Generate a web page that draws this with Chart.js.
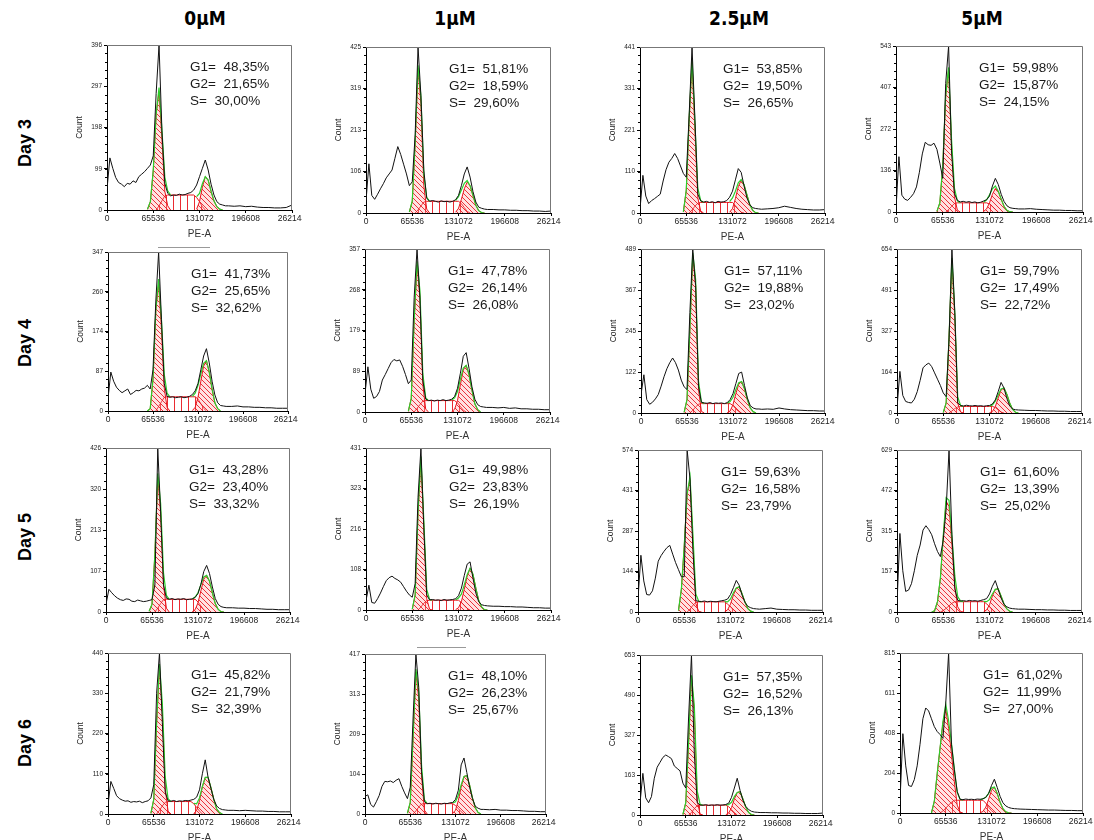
<!DOCTYPE html>
<html>
<head>
<meta charset="utf-8">
<script src="https://cdn.jsdelivr.net/npm/chart.js@4.4.1/dist/chart.umd.min.js"></script>
<style>
html, body { margin: 0; padding: 0; background: #fff; }
body { width: 1094px; height: 840px; position: relative; overflow: hidden; font-family: "Liberation Sans", Arial, sans-serif; }
canvas { position: absolute; }
.conc { position: absolute; top: 7px; font: bold 19px "Liberation Sans Narrow", "DejaVu Sans Condensed", "Liberation Sans", Arial; transform: translateX(-50%); white-space: nowrap; color: #000; }
.day { position: absolute; left: 25px; font: bold 18px "Liberation Sans", Arial; transform: translate(-50%, -50%) rotate(-90deg); white-space: nowrap; color: #000; }
.rule { position: absolute; height: 1px; background: #999; }
</style>
</head>
<body>
<script>
// ---- data ----
const concentrations = ['0µM', '1µM', '2.5µM', '5µM'];
const days = ['Day 3', 'Day 4', 'Day 5', 'Day 6'];

// PE-A channel positions of the histogram points
const binX = [0, 4096, 8192, 12288, 16384, 20480, 24576, 28672, 32768, 36864,
  40960, 45056, 49152, 53248, 57344, 61440, 65536, 69632, 73728, 77824,
  81920, 86016, 90112, 94208, 98304, 102400, 106496, 110592, 114688, 118784,
  122880, 126976, 131072, 135168, 139264, 143360, 147456, 151552, 155648, 159744,
  163840, 167936, 172032, 180224, 188416, 196608, 204800, 212992, 221184, 229376,
  237568, 245760, 253952, 262144];
const xTicks = [0, 65536, 131072, 196608, 262144];

// panels row by row: Day 3 (0, 1, 2.5, 5 µM), Day 4 ..., Day 5 ..., Day 6 ...
const yMax = [396, 425, 441, 543, 347, 357, 489, 654, 426, 431, 574, 629, 440, 417, 653, 815];

const g1Pct = [48.35, 51.81, 53.85, 59.98, 41.73, 47.78, 57.11, 59.79, 43.28, 49.98, 59.63, 61.60, 45.82, 48.10, 57.35, 61.02];
const g2Pct = [21.65, 18.59, 19.50, 15.87, 25.65, 26.14, 19.88, 17.49, 23.40, 23.83, 16.58, 13.39, 21.79, 26.23, 16.52, 11.99];
const sPct = [30.00, 29.60, 26.65, 24.15, 32.62, 26.08, 23.02, 22.72, 33.32, 26.19, 23.79, 25.02, 32.39, 25.67, 26.13, 27.00];

// measured counts, one row per panel, one value per binX
const histCounts = [
  [50,125,100,78,66,62,56,64,62,70,66,80,86,92,100,108,130,280,396,190,64,40,34,36,35,38,36,37,40,42,48,60,80,100,120,96,62,36,20,14,12,10,10,9,10,8,9,7,6,6,5,5,6,12],
  [30,126,45,35,48,62,75,90,100,110,140,170,150,125,100,70,80,200,425,300,110,38,30,32,30,28,31,29,30,28,30,34,45,70,100,118,92,55,28,15,12,10,9,9,8,8,7,7,6,6,5,5,4,5],
  [10,100,45,25,33,38,44,50,85,115,135,145,158,145,125,105,95,260,441,250,50,32,29,31,28,30,27,31,29,30,33,42,58,88,118,108,72,40,22,14,12,11,10,11,12,14,18,15,12,10,9,8,8,9],
  [10,181,55,42,38,48,60,82,130,190,228,220,218,225,205,160,110,420,543,200,60,38,33,35,32,34,31,33,30,32,36,40,52,85,110,90,58,34,20,14,12,11,10,10,11,9,8,7,6,6,5,5,4,4],
  [27,85,65,52,45,40,44,48,36,40,45,44,48,50,56,48,90,240,347,200,60,32,30,31,29,30,31,29,30,32,36,44,60,90,120,136,105,65,35,18,12,11,10,10,11,9,9,8,8,7,7,6,6,6],
  [40,99,50,30,34,45,70,82,95,108,115,112,114,100,82,62,70,250,357,250,70,28,25,26,24,26,25,27,25,26,28,34,52,85,122,130,95,55,28,16,12,11,10,10,9,10,8,9,7,7,6,6,5,5],
  [55,114,40,26,32,42,55,80,108,132,150,164,150,128,98,78,70,300,489,380,80,32,30,29,31,28,30,29,30,28,31,40,58,88,118,122,82,45,22,15,12,12,11,12,11,15,12,10,9,8,7,7,6,6],
  [20,166,70,46,42,40,55,85,130,180,192,199,185,160,135,110,80,65,295,654,400,40,30,28,31,29,28,30,28,29,27,29,30,36,52,85,122,100,58,28,16,13,12,11,10,10,9,8,8,7,7,6,6,6],
  [20,59,50,42,36,32,30,34,33,28,27,31,29,27,28,30,32,70,426,260,70,36,33,35,32,34,33,35,32,33,34,38,48,72,105,121,100,65,35,20,14,12,11,11,10,10,9,9,8,7,7,6,6,6],
  [25,66,20,18,30,45,62,78,86,90,84,80,74,62,50,40,34,70,300,431,220,40,27,28,26,27,25,28,26,27,28,30,38,58,92,122,128,85,45,22,14,12,11,10,10,9,9,8,8,7,6,6,5,5],
  [47,201,110,62,60,75,120,180,200,215,228,236,205,175,150,125,125,574,470,220,40,38,37,39,36,38,37,36,38,40,42,46,62,86,112,95,60,35,20,15,12,11,10,12,14,10,9,8,8,7,7,6,6,6],
  [30,305,160,80,85,110,160,220,260,318,335,320,300,265,235,215,280,400,629,300,90,45,43,44,42,45,43,44,42,45,48,52,70,100,122,88,55,30,20,15,13,12,11,11,10,9,9,8,8,7,7,6,6,6],
  [25,89,70,50,42,38,35,36,32,34,33,35,31,34,36,44,80,330,440,250,60,36,35,37,34,36,35,37,36,38,40,46,66,110,148,100,70,40,22,15,12,11,10,10,9,10,9,8,8,7,7,6,6,6],
  [46,50,25,18,32,48,72,85,84,86,82,88,92,72,55,40,70,250,417,330,110,32,27,28,26,28,27,26,28,27,29,30,38,62,128,146,108,70,40,20,15,12,12,11,12,10,10,9,9,8,7,7,6,6],
  [48,170,70,50,75,150,195,215,235,245,238,230,200,190,180,130,110,400,653,250,50,41,40,42,39,41,40,42,40,41,43,48,72,110,150,100,60,35,22,15,12,11,10,10,9,9,8,8,7,7,6,6,6,8],
  [60,404,240,140,135,170,240,350,480,535,520,480,440,415,400,380,560,815,350,220,110,70,68,71,69,70,68,71,70,72,80,100,140,172,130,85,52,36,28,24,22,21,20,19,18,17,16,15,15,14,13,13,12,12]
];

// model components (values on binX, starting at the given bin index)
const g1Start = [14, 15, 15, 14, 14, 15, 15, 16, 15, 16, 14, 12, 15, 15, 15, 11];
const g1Fit = [
  [2,20,95,230,284,170,45,10,0],
  [3,30,180,370,280,70,10,0],
  [3,60,250,400,220,40,5,0],
  [2,30,150,380,465,220,50,6,0],
  [0,5,70,220,278,180,50,8,0],
  [2,30,200,322,250,60,6,0],
  [2,40,250,470,380,70,5,0],
  [2,40,300,610,380,40,4,0],
  [2,20,150,350,260,70,10,0],
  [2,40,260,400,220,30,2,0],
  [5,80,235,420,470,250,30,2,0],
  [0,5,40,130,290,430,410,260,100,20,2,0],
  [2,40,250,400,280,70,8,0],
  [2,30,200,370,300,100,10,0],
  [2,50,300,560,420,60,4,0],
  [0,60,200,330,455,530,430,300,160,40,5,0]
];
const g2Start = [31, 31, 31, 30, 30, 30, 30, 32, 30, 31, 30, 30, 30, 31, 30, 28];
const g2Fit = [
  [2,20,55,80,72,45,22,8,2,0],
  [2,12,35,62,79,70,45,20,6,1,0],
  [2,12,38,70,87,75,48,22,7,1,0],
  [2,10,30,58,77,68,42,18,5,1,0],
  [1,8,30,65,98,110,85,48,18,5,0],
  [1,6,25,60,92,102,82,48,18,5,0],
  [1,6,25,58,86,94,72,40,15,4,0],
  [1,6,25,60,92,100,75,40,14,3,0],
  [1,6,24,55,85,95,80,50,22,7,1,0],
  [1,6,22,55,90,111,95,58,25,8,1,0],
  [1,8,28,60,85,89,65,35,12,3,0],
  [1,8,28,62,88,90,62,32,12,3,0],
  [1,10,36,75,100,100,72,40,14,4,0],
  [2,10,35,70,98,100,75,42,16,4,0],
  [1,8,30,65,92,95,65,32,10,2,0],
  [1,8,30,70,115,132,100,55,22,6,1,0]
];
const sStart = [17, 17, 17, 17, 17, 17, 17, 18, 17, 18, 17, 15, 17, 17, 17, 14];
const sFit = [
  [0,10,22,34,36,36,36,36,36,36,36,36,36,36,30,20,8,0],
  [0,8,18,28,30,30,30,30,30,30,30,30,30,30,30,30,24,14,4,0],
  [0,8,18,26,28,28,28,28,28,28,28,28,28,28,28,28,20,10,2,0],
  [0,8,18,28,30,30,30,30,30,30,30,30,30,30,30,26,18,8,0],
  [0,10,20,30,31,31,31,31,31,31,31,31,31,31,31,26,16,6,0],
  [0,8,16,24,25,25,25,25,25,25,25,25,25,25,25,20,12,4,0],
  [0,8,18,26,28,28,28,28,28,28,28,28,28,28,28,22,12,4,0],
  [0,8,18,24,26,26,26,26,26,26,26,26,26,26,26,26,22,12,4,0],
  [0,10,22,32,33,33,33,33,33,33,33,33,33,33,33,26,16,6,0],
  [0,8,18,25,26,26,26,26,26,26,26,26,26,26,26,20,12,4,0],
  [0,10,24,34,36,36,36,36,36,36,36,36,36,36,28,18,8,0],
  [0,6,14,24,34,40,40,40,40,40,40,40,40,40,40,40,32,20,8,0],
  [0,10,22,32,34,34,34,34,34,34,34,34,34,28,18,8,0],
  [0,8,18,26,27,27,27,27,27,27,27,27,27,27,27,22,14,6,0],
  [0,10,26,38,40,40,40,40,40,40,40,40,40,40,34,22,10,0],
  [0,10,25,40,55,65,65,65,65,65,65,65,65,65,65,65,50,30,12,0]
];

// ---- layout: plot area of each panel (left, top, right, bottom) ----
const plotBoxes = [
  [107, 45, 292, 210], [366, 47, 551, 213], [640, 47, 825, 213], [896, 46, 1083, 212],
  [108, 252, 288, 411], [365, 249, 550, 412], [641, 249, 825, 413], [897, 249, 1082, 413],
  [106, 448, 290, 612], [366, 448, 551, 610], [638, 450, 823, 612], [897, 450, 1082, 612],
  [108, 653, 291, 814], [365, 654, 546, 814], [640, 655, 823, 815], [900, 653, 1083, 813]
];
const padL = 32, padT = 8, padR = 10, padB = 30;
const headerX = [205, 455, 739, 982];
const dayY = [143, 343, 537, 743];
const FONT = '"Liberation Sans", Arial, sans-serif';

// header text
concentrations.forEach((c, i) => {
  const d = document.createElement('div');
  d.className = 'conc'; d.textContent = c; d.style.left = headerX[i] + 'px';
  document.body.appendChild(d);
});
days.forEach((t, i) => {
  const d = document.createElement('div');
  d.className = 'day'; d.textContent = t; d.style.top = dayY[i] + 'px';
  document.body.appendChild(d);
});
[[158, 247, 52], [417, 647, 49]].forEach(r => {
  const d = document.createElement('div');
  d.className = 'rule';
  d.style.left = r[0] + 'px'; d.style.top = r[1] + 'px'; d.style.width = r[2] + 'px';
  document.body.appendChild(d);
});

// fill patterns
function diagPattern() {
  const c = document.createElement('canvas');
  c.width = 5; c.height = 5;
  const g = c.getContext('2d');
  g.fillStyle = 'rgba(255,160,160,0.3)';
  g.fillRect(0, 0, 5, 5);
  g.strokeStyle = 'rgba(232,20,28,0.85)';
  g.lineWidth = 1;
  g.beginPath();
  g.moveTo(-1, -1); g.lineTo(6, 6);
  g.moveTo(-1, 4); g.lineTo(1, 6);
  g.moveTo(4, -1); g.lineTo(6, 1);
  g.stroke();
  return g.createPattern(c, 'repeat');
}
function vertPattern() {
  const c = document.createElement('canvas');
  c.width = 7; c.height = 2;
  const g = c.getContext('2d');
  g.fillStyle = 'rgba(232,20,28,0.9)';
  g.fillRect(0, 0, 1, 2);
  return g.createPattern(c, 'repeat');
}
const diag = diagPattern();
const vert = vertPattern();

function component(start, vals) {
  return vals.map((v, k) => ({ x: binX[start + k], y: v }));
}
function valueAt(start, vals, i) {
  const k = i - start;
  return (k >= 0 && k < vals.length) ? vals[k] : 0;
}

// frame, minor ticks and percentages
const panelDecor = {
  id: 'panelDecor',
  afterDatasetsDraw(chart) {
    const p = chart.options.plugins.panelDecor.index;
    const a = chart.chartArea, ctx = chart.ctx;
    ctx.save();
    ctx.strokeStyle = '#777';
    ctx.lineWidth = 1;
    ctx.beginPath();
    ctx.moveTo(a.left, a.top + 0.5); ctx.lineTo(a.right - 0.5, a.top + 0.5);
    ctx.lineTo(a.right - 0.5, a.bottom);
    ctx.stroke();
    ctx.strokeStyle = '#000';
    ctx.beginPath();
    const ys = chart.scales.y;
    for (let k = 1; k < 20; k++) {
      const yy = Math.round(ys.getPixelForValue(yMax[p] * k / 20)) + 0.5;
      ctx.moveTo(a.left - 2, yy); ctx.lineTo(a.left, yy);
    }
    ctx.stroke();
    const fmt = v => v.toFixed(2).replace('.', ',') + '%';
    ctx.fillStyle = '#1a1a1a';
    ctx.font = '13.5px ' + FONT;
    ctx.textBaseline = 'middle';
    ctx.textAlign = 'left';
    const tx = a.left + 83, ty = a.top + 22;
    ctx.fillText('G1=  ' + fmt(g1Pct[p]), tx, ty);
    ctx.fillText('G2=  ' + fmt(g2Pct[p]), tx, ty + 17);
    ctx.fillText('S=  ' + fmt(sPct[p]), tx, ty + 34);
    ctx.restore();
  }
};

plotBoxes.forEach((b, p) => {
  const cv = document.createElement('canvas');
  const w = b[2] - b[0] + padL + padR;
  const h = b[3] - b[1] + padT + padB;
  cv.width = w; cv.height = h;
  cv.style.left = (b[0] - padL) + 'px';
  cv.style.top = (b[1] - padT) + 'px';
  cv.style.width = w + 'px'; cv.style.height = h + 'px';
  document.body.appendChild(cv);

  const hist = binX.map((x, i) => ({ x: x, y: histCounts[p][i] }));
  const g1End = g1Start[p] + g1Fit[p].length - 1;
  const g2End = g2Start[p] + g2Fit[p].length - 1;
  const fit = binX.map((x, i) => {
    const inPeak = (i >= g1Start[p] && i <= g1End) || (i >= g2Start[p] && i <= g2End);
    if (!inPeak) return { x: x, y: null };
    return { x: x, y: valueAt(g1Start[p], g1Fit[p], i) + valueAt(sStart[p], sFit[p], i) + valueAt(g2Start[p], g2Fit[p], i) };
  });

  new Chart(cv, {
    type: 'line',
    data: {
      datasets: [
        { data: hist, borderColor: '#111', borderWidth: 1, pointRadius: 0, fill: false, tension: 0, order: 1 },
        { data: fit, borderColor: '#2bd02b', borderWidth: 1.2, pointRadius: 0, fill: false, spanGaps: false, order: 2 },
        { data: component(g1Start[p], g1Fit[p]), borderColor: '#e8141c', borderWidth: 1, backgroundColor: diag, fill: 'origin', pointRadius: 0, order: 4 },
        { data: component(g2Start[p], g2Fit[p]), borderColor: '#e8141c', borderWidth: 1, backgroundColor: diag, fill: 'origin', pointRadius: 0, order: 3 },
        { data: component(sStart[p], sFit[p]), borderColor: '#e8141c', borderWidth: 1, backgroundColor: vert, fill: 'origin', pointRadius: 0, order: 5 }
      ]
    },
    options: {
      responsive: false,
      animation: false,
      devicePixelRatio: 1,
      events: [],
      layout: { padding: { top: padT, right: padR, left: 0, bottom: 0 } },
      plugins: {
        legend: { display: false },
        tooltip: { enabled: false },
        panelDecor: { index: p }
      },
      scales: {
        x: {
          type: 'linear', min: 0, max: 262144,
          afterBuildTicks: axis => { axis.ticks = xTicks.map(v => ({ value: v })); },
          afterFit: axis => { axis.height = padB; axis.paddingLeft = 0; axis.paddingRight = 0; },
          ticks: { font: { family: FONT, size: 8.5 }, color: '#222', maxRotation: 0, autoSkip: false, padding: 1, callback: v => String(v) },
          grid: { drawOnChartArea: false, drawTicks: true, tickLength: 3, color: '#000' },
          border: { color: '#000', width: 1 },
          title: { display: true, text: 'PE-A', font: { family: FONT, size: 10 }, color: '#333', padding: { top: 0, bottom: 0 } }
        },
        y: {
          min: 0, max: yMax[p],
          afterBuildTicks: axis => {
            const m = yMax[p];
            axis.ticks = [0, m / 4, m / 2, 3 * m / 4, m].map(v => ({ value: v }));
          },
          afterFit: axis => { axis.width = padL; axis.paddingTop = 0; axis.paddingBottom = 0; },
          ticks: { font: { family: FONT, size: 6.5 }, color: '#222', padding: 2, callback: v => String(Math.round(v)) },
          grid: { drawOnChartArea: false, drawTicks: true, tickLength: 3, color: '#000' },
          border: { color: '#000', width: 1 },
          title: { display: true, text: 'Count', font: { family: FONT, size: 8.5 }, color: '#222', padding: { top: 0, bottom: 1 } }
        }
      }
    },
    plugins: [panelDecor]
  });
});
</script>
</body>
</html>
